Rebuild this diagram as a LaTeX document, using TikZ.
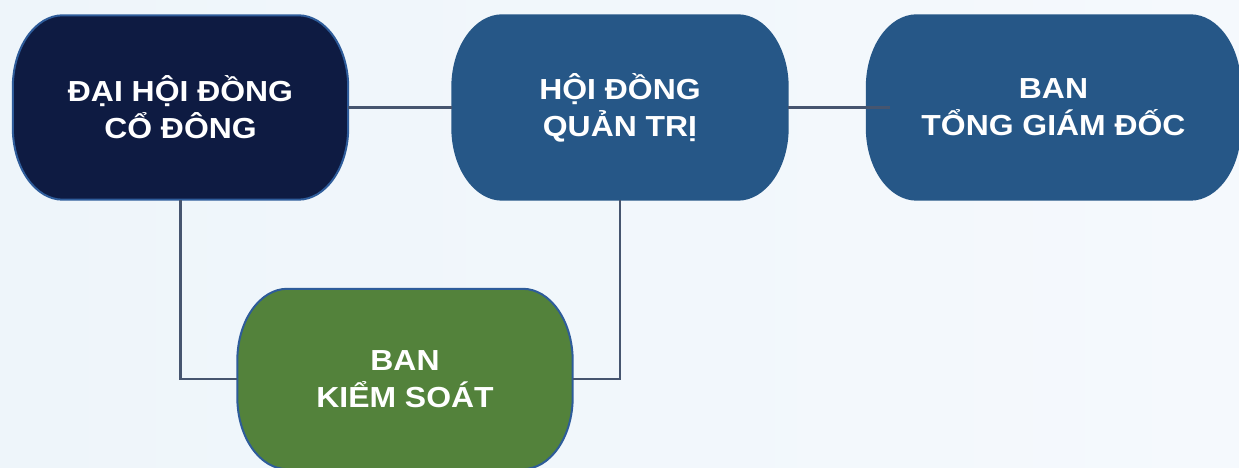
\documentclass[tikz,border=0pt]{standalone}
\usepackage{fontspec}
\setmainfont{Liberation Sans}[FakeStretch=1.1]
\pgfdeclarelayer{bg}
\pgfdeclarelayer{pills}
\pgfsetlayers{bg,pills,main}
\definecolor{navy}{HTML}{0E1B42}
\definecolor{steel}{HTML}{265787}
\definecolor{leaf}{HTML}{53823B}
\definecolor{rim}{HTML}{2E5C9A}
\definecolor{wire}{HTML}{46556F}
\definecolor{bgl}{HTML}{EEF5FA}
\definecolor{bgr}{HTML}{F5F9FD}
% rounded outline behind a named node
\newcommand{\pill}[3]{%
  \begin{pgfonlayer}{pills}
  \path[fill=#2,draw=#3,line width=2pt]
    ([xshift=50pt]#1.north west) -- ([xshift=-50pt]#1.north east)
    arc[start angle=90,end angle=0,x radius=50pt,y radius=72pt]
    -- ([yshift=72pt]#1.south east)
    arc[start angle=0,end angle=-90,x radius=50pt,y radius=72pt]
    -- ([xshift=50pt]#1.south west)
    arc[start angle=270,end angle=180,x radius=50pt,y radius=72pt]
    -- ([yshift=-72pt]#1.north west)
    arc[start angle=180,end angle=90,x radius=50pt,y radius=72pt] -- cycle;
  \end{pgfonlayer}}
\tikzset{
  box/.style={minimum width=335pt,minimum height=184pt,inner sep=0pt,align=center,
    text=white,font=\bfseries\fontsize{29}{37}\selectfont}
}
\begin{document}
\begin{tikzpicture}[x=1pt,y=1pt]
      \useasboundingbox (0,0) rectangle (1239,468);
      \begin{pgfonlayer}{bg}
        \shade[left color=bgl,right color=bgr] (0,0) rectangle (1239,468);
      \end{pgfonlayer}
      \draw
        (180.5,360.5) node[box] (dhdcd){ĐẠI HỘI ĐỒNG\\CỔ ĐÔNG}
        (620,360.5) node[box] (hdqt){HỘI ĐỒNG\\QUẢN TRỊ}
        (1053.5,360.5) node[box,minimum width=373pt] (btgd){BAN\\TỔNG GIÁM ĐỐC}
        (405,89) node[box,minimum height=180pt] (bks){BAN\\KIỂM SOÁT};
      \pill{dhdcd}{navy}{rim}
      \pill{hdqt}{steel}{steel}
      \pill{btgd}{steel}{steel}
      \pill{bks}{leaf}{rim}
      \coordinate (tip) at ([xshift=23pt]btgd.west);
      \begin{scope}[draw=wire,line width=2.5pt]
        \draw (dhdcd) -- (hdqt);
        \draw (hdqt.east) -- (tip);
        \draw (dhdcd.south) |- (bks.west);
        \draw (hdqt.south) |- (bks.east);
      \end{scope}
    \end{tikzpicture}
\end{document}
